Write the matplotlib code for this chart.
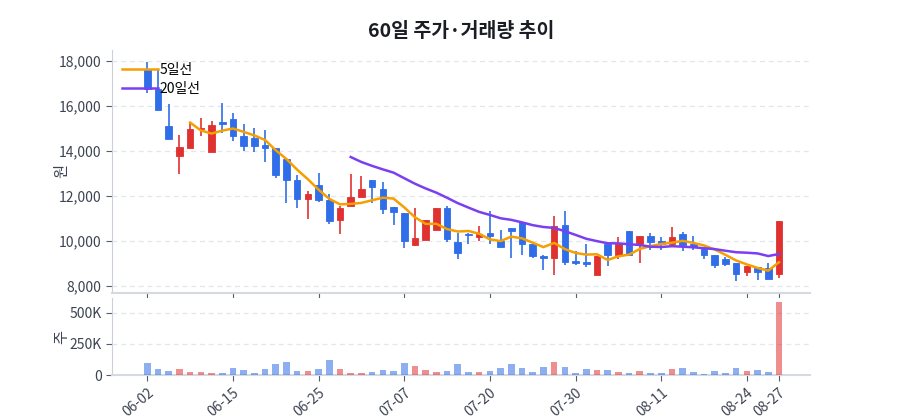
import numpy as np
import matplotlib
matplotlib.use("Agg")
import matplotlib.pyplot as plt
from matplotlib.ticker import FuncFormatter

plt.rcParams['font.family'] = ['Noto Sans CJK KR', 'DejaVu Sans']

# 60 trading days
opens = [17676, 16787, 15111, 13778, 14164, 14978, 13969, 15303, 15453, 14680,
         14591, 14267, 14164, 13644, 12742, 11867, 12520, 11853, 10964, 11556,
         11987, 12711, 12342, 11527, 11276, 9822, 10076, 10520, 11480, 9969,
         10342, 10194, 10387, 10014, 10609, 10858, 9898, 9333, 9276, 10711,
         9111, 9080, 8520, 9898, 9409, 10444, 9898, 10236, 10014, 9898,
         10342, 9867, 9676, 9409, 9200, 9053, 8636, 8858, 8831, 8564]
highs = [17970, 17600, 16120, 14711, 15258, 15480, 15333, 16147, 15720, 15231,
         15053, 14964, 14164, 13680, 12964, 12222, 13053, 12120, 11556, 12978,
         12904, 12711, 12636, 11527, 11276, 11480, 10933, 11480, 11556, 10387,
         10387, 10680, 11347, 10520, 10609, 10858, 9898, 9378, 11111, 11347,
         9569, 9898, 9333, 9930, 10193, 10444, 10236, 10369, 10193, 10636,
         10414, 10236, 9676, 9409, 9302, 9053, 8902, 8858, 9053, 10889]
lows = [16578, 15853, 14564, 13009, 14164, 14667, 13950, 14814, 14444, 14000,
        13969, 13524, 12813, 11720, 11498, 11009, 11747, 10786, 10342, 11556,
        11987, 11702, 11200, 10711, 9702, 9778, 10050, 10520, 9969, 9231,
        9898, 10014, 9898, 9747, 9276, 9409, 9276, 8711, 8489, 8933,
        8933, 8858, 8520, 8889, 9231, 9347, 9036, 9600, 9600, 9822,
        9556, 9600, 9200, 8831, 8889, 8236, 8444, 8267, 8342, 8387]
closes = [16787, 15853, 14564, 14191, 14978, 15036, 15156, 15213, 14667, 14236,
          14236, 14147, 12933, 12711, 11867, 12120, 11822, 10889, 11498, 11969,
          12342, 12413, 11453, 11304, 10014, 10147, 10933, 11480, 10120, 9480,
          10267, 10311, 10236, 9747, 10458, 9898, 9333, 9258, 10680, 9080,
          9036, 8978, 9333, 9409, 9898, 9409, 10236, 9969, 9867, 10193,
          9822, 9778, 9409, 8964, 9009, 8564, 8902, 8636, 8342, 10889]
volumes = [93, 49, 33, 49, 27, 27, 16, 19, 58, 41,
           16, 49, 91, 102, 36, 33, 49, 118, 52, 19,
           19, 27, 41, 33, 93, 69, 41, 27, 33, 85,
           25, 27, 36, 58, 91, 60, 27, 63, 107, 66,
           19, 49, 44, 44, 27, 16, 33, 19, 19, 52,
           60, 25, 11, 33, 16, 58, 36, 44, 27, 588]  # thousands
tick_pos = [0, 8, 16, 24, 32, 40, 48, 56, 59]
tick_labels = ['06-02', '06-15', '06-25', '07-07', '07-20', '07-30', '08-11', '08-24', '08-27']

UP = '#e03131'
DOWN = '#2f6ee8'
GRID = '#e3e6ec'
TXT = '#3c4352'

o = np.array(opens)
h = np.array(highs)
l = np.array(lows)
c = np.array(closes)
v = np.array(volumes) * 1000
x = np.arange(len(c))
up = c >= o
cols = np.where(up, UP, DOWN)

ma5 = np.convolve(c, np.ones(5) / 5, mode='valid')
ma20 = np.convolve(c, np.ones(20) / 20, mode='valid')

fig = plt.figure(figsize=(9, 4.2), dpi=100)
ax = fig.add_axes([0.1244, 0.3024, 0.7756, 0.5786])
axv = fig.add_axes([0.1244, 0.1071, 0.7756, 0.1833], sharex=ax)

# candles
ax.vlines(x, l, h, colors=cols, linewidth=1.2, zorder=2)
body = np.maximum(np.abs(c - o), 25)
ax.bar(x, body, bottom=np.minimum(o, c), width=0.62, color=cols,
       edgecolor=cols, linewidth=0.6, zorder=3)
ax.plot(x[4:], ma5, color='#f59f00', linewidth=1.8, label='5일선', zorder=4)
ax.plot(x[19:], ma20, color='#7b3ff2', linewidth=1.8, label='20일선', zorder=4)

ax.set_ylim(7700, 18500)
ax.set_xlim(-3.3, 61.9)
ax.set_yticks([8000, 10000, 12000, 14000, 16000, 18000])
ax.yaxis.set_major_formatter(FuncFormatter(lambda val, p: f'{int(val):,}'))
ax.set_ylabel('원', color=TXT, fontsize=11)
ax.yaxis.set_label_coords(-0.06, 0.5)
ax.legend(loc='upper left', frameon=False, fontsize=10, handlelength=2.6,
          handletextpad=0.1, borderaxespad=0.3, labelspacing=0.35,
          bbox_to_anchor=(0.0, 0.985))

# volume
axv.bar(x, v, width=0.62, color=cols, alpha=0.55, zorder=3)
axv.set_ylim(0, 620000)
axv.set_yticks([0, 250000, 500000])
axv.yaxis.set_major_formatter(FuncFormatter(lambda val, p: '0' if val == 0 else f'{int(val / 1000)}K'))
axv.set_ylabel('주', color=TXT, fontsize=11)
axv.yaxis.set_label_coords(-0.06, 0.5)
axv.set_xticks(tick_pos)
axv.set_xticklabels(tick_labels, rotation=40, ha='right', rotation_mode='anchor')

for a in (ax, axv):
    a.grid(axis='y', color=GRID, linestyle=(0, (4, 3)), linewidth=0.9)
    a.set_axisbelow(True)
    a.spines['top'].set_visible(False)
    a.spines['right'].set_visible(False)
    a.spines['left'].set_color('#c9cfdb')
    a.spines['bottom'].set_color('#d5d9e0')
    a.spines['bottom'].set_linewidth(1.5)
    a.tick_params(colors=TXT, labelsize=10, length=4)
    a.tick_params(axis='x', color='#555c6a')
    a.tick_params(axis='y', color='#555c6a')
plt.setp(ax.get_xticklabels(), visible=False)

fig.text(0.512, 0.925, '60일 주가·거래량 추이', ha='center', va='center',
         fontsize=14, fontweight='bold', color='#1a1d24')

fig.savefig('out.png', dpi=100)
